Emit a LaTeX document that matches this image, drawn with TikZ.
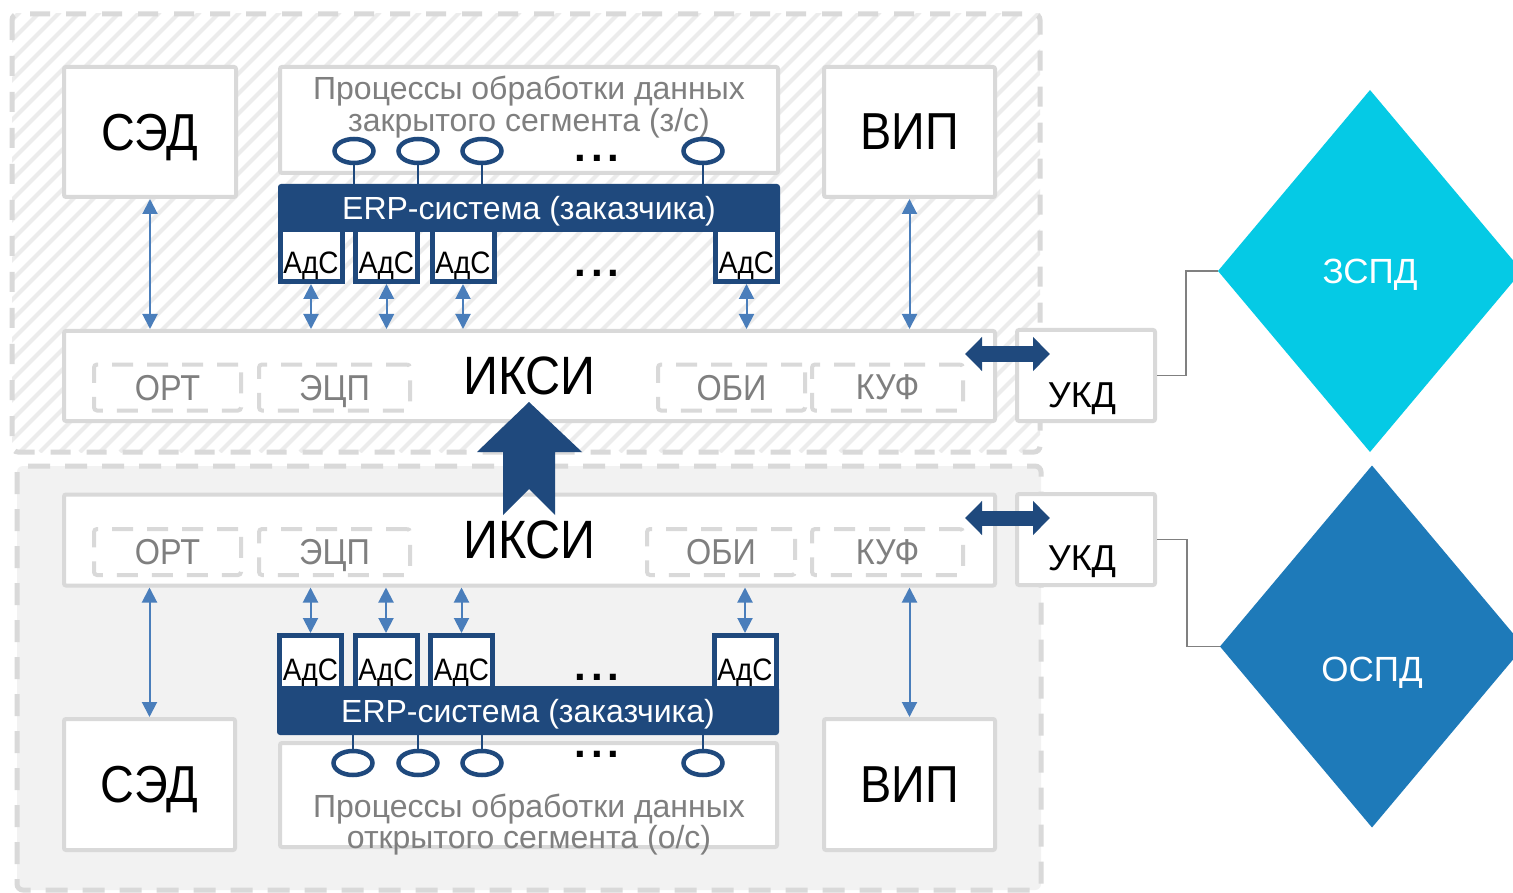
\documentclass[tikz,border=0pt]{standalone}
\usepackage{fontspec}
\setmainfont{Liberation Sans}
\newfontfamily\narrowfont{Liberation Sans}[FakeStretch=0.9]
\usetikzlibrary{arrows.meta,shapes.geometric}

\definecolor{navy}{RGB}{31,73,125}
\definecolor{linkblue}{RGB}{74,126,187}
\definecolor{frame}{RGB}{217,217,217}
\definecolor{txtgray}{RGB}{127,127,127}
\definecolor{hatchgray}{RGB}{236,236,236}
\definecolor{openbg}{RGB}{242,242,242}
\definecolor{zspdcol}{RGB}{5,202,229}
\definecolor{ospdcol}{RGB}{30,122,185}
\definecolor{wiregray}{RGB}{128,128,128}

\tikzset{
  zone/.style={draw=frame, line width=5pt, dash pattern=on 20pt off 16pt, rounded corners=6pt},
  hatchline/.style={draw=hatchgray, line width=4pt},
  box/.style={draw=frame, line width=4pt, fill=white, rounded corners=2pt, inner sep=0pt},
  bigtext/.style={font=\narrowfont\fontsize{52pt}{52pt}\selectfont, text depth=0pt},
  iksitext/.style={font=\narrowfont\fontsize{54pt}{54pt}\selectfont, text depth=0pt},
  subbox/.style={draw=frame, line width=4pt, dash pattern=on 21pt off 14pt, rounded corners=3pt,
    inner sep=0pt, text=txtgray, font=\narrowfont\fontsize{36pt}{36pt}\selectfont,
    text depth=0pt, minimum height=46pt},
  proctext/.style={text=txtgray, font=\fontsize{32pt}{32pt}\selectfont, inner sep=0pt, anchor=base},
  erpbar/.style={fill=navy, rounded corners=3pt, text=white, minimum width=502pt,
    font=\fontsize{32pt}{32pt}\selectfont, text depth=0pt, inner sep=0pt},
  ads/.style={draw=navy, line width=5pt, fill=white, minimum width=62pt, inner sep=0pt,
    font=\narrowfont\fontsize{31pt}{31pt}\selectfont, text depth=0pt, text height=36pt},
  port/.style={ellipse, draw=navy, line width=4.5pt, fill=white, minimum width=39pt,
    minimum height=24pt, inner sep=0pt},
  stem/.style={draw=navy, line width=2.5pt},
  dots/.style={font=\bfseries\fontsize{42pt}{42pt}\selectfont, inner sep=0pt, anchor=base,
    text height=7pt, text depth=0pt},
  biarrow/.style={draw=linkblue, line width=2pt,
    {Triangle[length=15pt,width=15pt]}-{Triangle[length=15pt,width=15pt]}},
  gatearrow/.style={draw=navy, line width=15pt,
    {Triangle[length=17pt,width=33pt]}-{Triangle[length=17pt,width=33pt]}},
  ukdtext/.style={font=\fontsize{36pt}{36pt}\selectfont, inner sep=0pt, anchor=base},
  net/.style={diamond, minimum width=304pt, minimum height=362pt, inner sep=0pt, outer sep=0pt,
    text=white, font=\fontsize{35pt}{35pt}\selectfont, text depth=0pt},
  wire/.style={draw=wiregray, line width=1.5pt}
}

\begin{document}
\begin{tikzpicture}[x=1pt,y=-1pt]
\useasboundingbox (0,0) rectangle (1513,893);
\clip (0,0) rectangle (1513,893);
\fill[white] (0,0) rectangle (1513,893);

% closed segment zone, hatched
\begin{scope}
  \clip (12,14) rectangle (1040,452);
  \foreach \k in {-23,...,53} \draw[hatchline] (\k*20,452) -- ++(440,-440);
\end{scope}
\draw[zone] (12,14) rectangle (1040,452);

% open segment zone, grey fill
\draw[zone, fill=openbg, dash pattern=on 22pt off 15pt] (17,466) rectangle (1041,890);

% ---------- closed segment ----------
\node[box, minimum width=172pt, minimum height=130pt, bigtext] (sedA) at (150,132) {СЭД};
\node[box, minimum width=171pt, minimum height=130pt, bigtext] (vipA) at (909.5,132) {ВИП};
\node[box, minimum width=498pt, minimum height=106pt] (procA) at (529,120) {};
\node[proctext] (procA1) at (529,100) {Процессы обработки данных};
\node[proctext] (procA2) at (529,132) {закрытого сегмента (з/с)};
\node[erpbar, minimum height=48pt] (erpA) at (529,208) {ERP-система (заказчика)};

\node[ads, minimum height=52pt] (adsA1) at (311,255.5) {АдС};
\node[ads, minimum height=52pt] (adsA2) at (386.5,255.5) {АдС};
\node[ads, minimum height=52pt] (adsA3) at (463,255.5) {АдС};
\node[ads, minimum height=52pt] (adsA4) at (746.5,255.5) {АдС};
\node[dots] (dotsA2) at (597,277) {.\hspace{5pt}.\hspace{5pt}.};

\node[port] (pA1) at (354,151) {};
\node[port] (pA2) at (418,151) {};
\node[port] (pA3) at (482,151) {};
\node[port] (pA4) at (703,151) {};
\node[dots] (dotsA1) at (597,162) {.\hspace{5pt}.\hspace{5pt}.};
\foreach \p in {pA1,pA2,pA3,pA4} \draw[stem] (\p.south) -- (\p.south |- erpA.north);

\node[box, minimum width=931pt, minimum height=90pt, iksitext] (iksiA) at (529.5,376) {ИКСИ};
\node[subbox, minimum width=147pt] (ortA) at (167.5,387.5) {ОРТ};
\node[subbox, minimum width=151pt] (ecpA) at (334.5,387.5) {ЭЦП};
\node[subbox, minimum width=147pt] (obiA) at (731.5,387.5) {ОБИ};
\node[subbox, minimum width=151pt] (kufA) at (887.5,387.5) {КУФ};

\node[box, minimum width=138pt, minimum height=91pt] (ukdA) at (1086,375.5) {};
\node[ukdtext] (ukdAt) at (1082,407) {УКД};

\draw[biarrow] (sedA.south) -- (sedA.south |- iksiA.north);
\draw[biarrow] (vipA.south) -- (vipA.south |- iksiA.north);
\foreach \a in {adsA1,adsA2,adsA3,adsA4} \draw[biarrow] (\a.south) -- (\a.south |- iksiA.north);

\coordinate (gA1) at (965,354);
\coordinate (gA2) at (1050,354);
\draw[gatearrow] (gA1) -- (gA2);

% ---------- open segment ----------
\node[box, minimum width=931pt, minimum height=91pt, iksitext] (iksiB) at (529.5,540) {ИКСИ};
\node[subbox, minimum width=147pt] (ortB) at (167.5,552) {ОРТ};
\node[subbox, minimum width=151pt] (ecpB) at (334.5,552) {ЭЦП};
\node[subbox, minimum width=148pt] (obiB) at (721,552) {ОБИ};
\node[subbox, minimum width=151pt] (kufB) at (887.5,552) {КУФ};

\node[box, minimum width=138pt, minimum height=91pt] (ukdB) at (1086,539.5) {};
\node[ukdtext] (ukdBt) at (1082,570) {УКД};

\node[box, minimum width=171pt, minimum height=131pt, bigtext] (sedB) at (149.5,784.5) {СЭД};
\node[box, minimum width=171pt, minimum height=131pt, bigtext] (vipB) at (909.5,784.5) {ВИП};
\node[box, minimum width=497pt, minimum height=104pt] (procB) at (528.5,795) {};

\node[ads, minimum height=54pt] (adsB1) at (310.5,662.5) {АдС};
\node[ads, minimum height=54pt] (adsB2) at (386,662.5) {АдС};
\node[ads, minimum height=54pt] (adsB3) at (461.5,662.5) {АдС};
\node[ads, minimum height=54pt] (adsB4) at (745,662.5) {АдС};
\node[dots] (dotsB1) at (597,680) {.\hspace{5pt}.\hspace{5pt}.};
\node[erpbar, minimum height=49pt] (erpB) at (528,710.5) {ERP-система (заказчика)};

\node[port] (pB1) at (353,763) {};
\node[port] (pB2) at (418,763) {};
\node[port] (pB3) at (482,763) {};
\node[port] (pB4) at (703,763) {};
\node[dots] (dotsB2) at (597,757) {.\hspace{5pt}.\hspace{5pt}.};
\foreach \p in {pB1,pB2,pB3,pB4} \draw[stem] (\p.north) -- (\p.north |- erpB.south);

\node[proctext] (procB1) at (529,817) {Процессы обработки данных};
\node[proctext] (procB2) at (529,848) {открытого сегмента (о/с)};

\draw[biarrow] (sedB.north) -- (sedB.north |- iksiB.south);
\draw[biarrow] (vipB.north) -- (vipB.north |- iksiB.south);
\foreach \a in {adsB1,adsB2,adsB3,adsB4} \draw[biarrow] (\a.north) -- (\a.north |- iksiB.south);

\coordinate (gB1) at (965,518);
\coordinate (gB2) at (1050,518);
\draw[gatearrow] (gB1) -- (gB2);

% transfer from the open to the closed segment
\fill[navy] (529,402) -- (582,452) -- (555,452) -- (555,515) -- (529,489)
  -- (503,515) -- (503,452) -- (477,452) -- cycle;

% ---------- networks ----------
\node[net, fill=zspdcol] (zspd) at (1370,271) {ЗСПД};
\node[net, fill=ospdcol] (ospd) at (1372,646.5) {};
\node[font=\fontsize{35pt}{35pt}\selectfont, text=white, inner sep=0pt, anchor=base] (ospdt) at (1372,681.5) {ОСПД};

\draw[wire] (ukdA.east) -- ++(29,0) |- (zspd.west);
\draw[wire] (ukdB.east) -- ++(30,0) |- (ospd.west);
\end{tikzpicture}
\end{document}
